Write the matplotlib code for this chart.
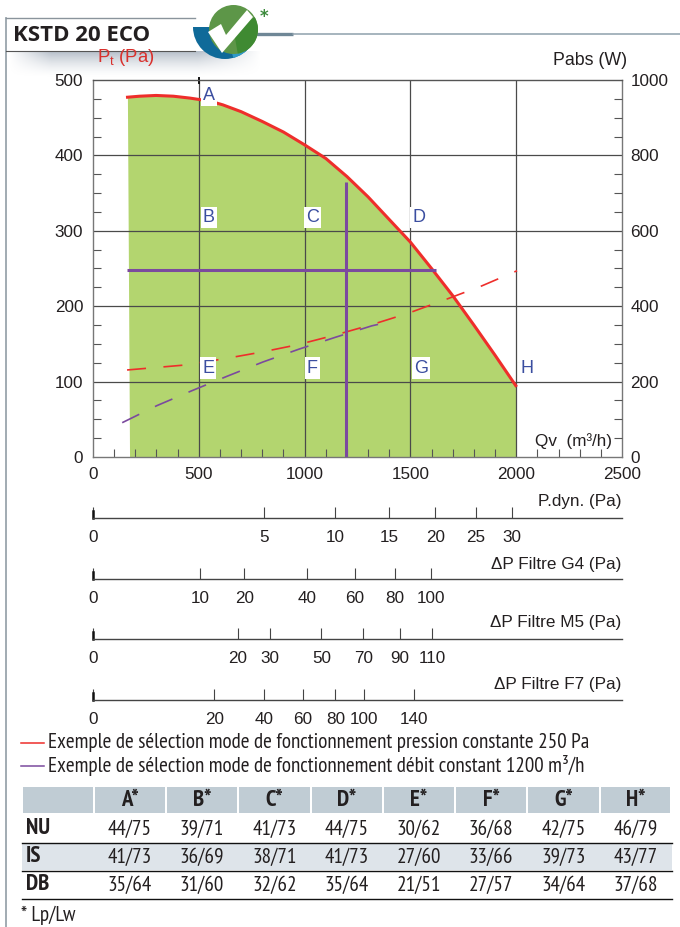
import numpy as np
import matplotlib
matplotlib.use("Agg")
import matplotlib.pyplot as plt
from matplotlib.patches import Rectangle, Circle, Polygon, Wedge
from matplotlib.ticker import NullLocator
from matplotlib import font_manager as fm

W, H = 680, 927
names = {f.name for f in fm.fontManager.ttflist}
SCALE = 1.0
NARROW = None
for cand in ["PT Sans Narrow", "Roboto Condensed", "Archivo Narrow", "Open Sans Condensed"]:
    if cand in names:
        NARROW = cand
        break
if NARROW is None:
    NARROW, SCALE = "Roboto", 0.77
SANS = "Liberation Sans"
plt.rcParams["mathtext.fontset"] = "custom"
plt.rcParams["mathtext.rm"] = SANS
plt.rcParams["mathtext.it"] = SANS
plt.rcParams["mathtext.default"] = "rm"

# ---- data ----
curve_q = [156, 220, 298, 380, 458, 553, 614, 700, 800, 900, 1000, 1100, 1200, 1300, 1400, 1500, 1600, 1700, 1800, 1900, 2002]
curve_p = [477, 478.5, 479.5, 478.5, 476, 472, 467, 458, 445, 431, 414, 396, 372, 345, 315, 285, 250, 214, 175, 135, 93]
fill_left_q = [175, 165]
fill_right_q = 2002
red_dash_q = [161, 435, 614, 794, 969, 1148, 1323, 1493, 1668, 1838, 2004]
red_dash_p = [115.4, 122, 130, 139, 149, 162, 176, 191, 209, 227, 247]
purple_dash_q = [138, 301, 468, 633, 803, 973, 1148, 1318, 1413]
purple_dash_p = [45.5, 68, 88, 107, 126, 143, 159, 174, 180]
op_flow = [1198, 1198]
op_flow_p = [0, 365]
op_press_q = [160, 1620]
op_press = [248, 248]
points = ["A", "B", "C", "D", "E", "F", "G", "H"]
point_q = [548, 548, 1038, 1540, 545, 1036, 1550, 2050]
point_p = [480, 318, 318, 318, 118, 118, 118, 118]
x_ticks = [0, 500, 1000, 1500, 2000, 2500]
y_ticks = [0, 100, 200, 300, 400, 500]
y2_labels = [0, 200, 400, 600, 800, 1000]

scale_titles = ["P.dyn. (Pa)", "ΔP Filtre G4 (Pa)", "ΔP Filtre M5 (Pa)", "ΔP Filtre F7 (Pa)"]
scale_ticks = [[5, 10, 15, 20, 25, 30],
               [10, 20, 40, 60, 80, 100],
               [20, 30, 50, 70, 90, 110],
               [20, 40, 60, 80, 100, 140]]
scale_max = [47.8, 245, 268, 381]

legend_texts = ["Exemple de sélection mode de fonctionnement pression constante 250 Pa",
                "Exemple de sélection mode de fonctionnement débit constant 1200 m³/h"]
table_cols = ["A*", "B*", "C*", "D*", "E*", "F*", "G*", "H*"]
row_names = ["NU", "IS", "DB"]
row_nu = ["44/75", "39/71", "41/73", "44/75", "30/62", "36/68", "42/75", "46/79"]
row_is = ["41/73", "36/69", "38/71", "41/73", "27/60", "33/66", "39/73", "43/77"]
row_db = ["35/64", "31/60", "32/62", "35/64", "21/51", "27/57", "34/64", "37/68"]

RED = "#ee2e2b"
PURPLE = "#7b4a9e"
GREEN = "#b3d56f"
TXT = "#231f20"

fig = plt.figure(figsize=(W / 100, H / 100), dpi=100)

def px_axes(x0, y0, x1, y1, **kw):
    return fig.add_axes([x0 / W, 1 - y1 / H, (x1 - x0) / W, (y1 - y0) / H], **kw)

# ---- overlay in pixels (frame, title, legend, table) ----
bg = px_axes(0, 0, W, H, zorder=0)
bg.axis("off")

# soft shadow below the title box
gy = np.linspace(1, 0, 40)[:, None] ** 1.6
gx = np.clip(np.minimum(np.linspace(0, 1, 120) * 6, np.linspace(1, 0, 120) * 4), 0, 1)[None, :]
rgba = np.zeros((40, 120, 4)); rgba[..., :3] = (0.52, 0.58, 0.65); rgba[..., 3] = gy * gx * 0.6
bg.imshow(rgba, extent=(8, 262, 78, 51), aspect="auto", zorder=0, interpolation="bilinear")
bg.set_xlim(0, W); bg.set_ylim(H, 0)

bg.plot([5.5, 5.5], [18, H], color="#9aa5ad", lw=1.3)
bg.plot([5.5, 195], [18, 18], color="#8a949c", lw=1)
bg.plot([5.5, 195], [51, 51], color="#555555", lw=0.8)
bg.plot([250, 293], [33.5, 33.5], color="#6f8796", lw=2.4, solid_capstyle="butt")
bg.plot([293, W], [33.5, 33.5], color="#8ea0ac", lw=1.1)
bg.text(13, 35.5, "KSTD 20 ECO", fontsize=16, fontweight="bold", family="Open Sans",
        color=TXT, va="center", ha="left")

# logo
bg.add_patch(Wedge((225, 27), 32, 0, 180, color="#0f6a99", lw=0, zorder=4))
bg.add_patch(Wedge((225, 27), 32, 0, 75, color="#2f9ac8", lw=0, zorder=4))
bg.add_patch(Circle((233.5, 29.5), 24.5, color="#5d9648", lw=0, zorder=5))
bg.add_patch(Wedge((233.5, 29.5), 24.5, -30, 80, color="#3f8a32", lw=0, zorder=5))
bg.add_patch(Polygon([[208, 32], [221, 24], [226, 35], [247, 10], [253, 17], [222, 53]], color="white", lw=0, zorder=6))
bg.text(264, 17, "*", color="#3c8a3c", fontsize=12, fontweight="bold", ha="center", va="center", zorder=6)

# legend
leg_y = [743, 766]
for y, t, c in zip(leg_y, legend_texts, [RED, PURPLE]):
    bg.plot([21, 44], [y, y], color=c, lw=1.1)
    bg.text(48, y - 1, t, fontsize=15.2 * SCALE, family=NARROW, color=TXT, va="center", ha="left")

# table
col_edges = [23, 95, 167, 239, 312, 384, 456, 528, 601, 672]
for x0, x1 in zip(col_edges[:-1], col_edges[1:]):
    bg.add_patch(Rectangle((x0, 787), x1 - x0 - 2, 26, color="#c0ccd4", lw=0))
for i, c in enumerate(table_cols):
    bg.text((col_edges[i + 1] + col_edges[i + 2] - 2) / 2, 800, c, fontsize=16.5 * SCALE, fontweight="bold",
            family=NARROW, color=TXT, ha="center", va="center")
bg.add_patch(Rectangle((22, 843), 650, 27, color="#dee4ea", lw=0))
row_y = [829, 857, 885]
for y, name, vals in zip(row_y, row_names, [row_nu, row_is, row_db]):
    bg.text(26, y, name, fontsize=16.5 * SCALE, fontweight="bold", family=NARROW, color=TXT, ha="left", va="center")
    for i, v in enumerate(vals):
        bg.text((col_edges[i + 1] + col_edges[i + 2] - 2) / 2, y, v, fontsize=15.2 * SCALE, family=NARROW,
                color=TXT, ha="center", va="center")
for y in [842.5, 870.5, 898.5]:
    bg.plot([22, 672], [y, y], color="#111111", lw=1)
bg.text(21, 915, "* Lp/Lw", fontsize=15.2 * SCALE, family=NARROW, color=TXT, ha="left", va="center")

# ---- main chart ----
ax = px_axes(93, 80, 622, 457, zorder=2)
ax.patch.set_alpha(0)
ax.set_xlim(0, 2500); ax.set_ylim(0, 500)

ax.fill([fill_left_q[0], fill_left_q[1]] + curve_q[1:] + [fill_right_q],
        [0, np.interp(fill_left_q[1], curve_q, curve_p)] + curve_p[1:] + [0],
        color=GREEN, lw=0, zorder=1)

for q in x_ticks[1:-1]:
    ax.plot([q, q], [0, 500], color="#4a4a4a", lw=0.9, zorder=2)
for p in y_ticks[1:-1]:
    ax.plot([0, 2500], [p, p], color="#4a4a4a", lw=0.9, zorder=2)
ax.plot([500, 500], [496, 502], color="#111111", lw=1.4, zorder=2, clip_on=False)

ax.set_xticks(x_ticks); ax.set_yticks(y_ticks)
ax.set_xticks(np.arange(0, 2501, 100), minor=True)
ax.set_yticks(np.arange(0, 501, 25), minor=True)
ax.tick_params(axis="both", which="minor", direction="in", length=5.5, width=0.8, color="#555555",
               top=False, left=True, bottom=True, zorder=2)
ax.tick_params(axis="both", which="major", length=0, labelsize=12.3, labelcolor=TXT, pad=7)
for lab in ax.get_xticklabels() + ax.get_yticklabels():
    lab.set_family(SANS)
for s in ax.spines.values():
    s.set_color("#777777"); s.set_linewidth(1.0)
ax.spines["top"].set_color("#555555")

ax2 = ax.twinx()
ax2.patch.set_alpha(0)
ax2.set_ylim(0, 1000)
ax2.set_yticks(y2_labels)
ax2.set_yticks(np.arange(0, 1001, 50), minor=True)
ax2.tick_params(axis="y", which="minor", direction="in", length=5.5, width=0.8, color="#555555")
ax2.tick_params(axis="y", which="major", length=0, labelsize=12.3, labelcolor=TXT, pad=6)
for lab in ax2.get_yticklabels():
    lab.set_family(SANS)
for s in ax2.spines.values():
    s.set_visible(False)

ax.plot(curve_q, curve_p, color=RED, lw=2.2, zorder=5, solid_capstyle="butt")
ax.plot(red_dash_q, red_dash_p, color=RED, lw=1.2, dashes=(11.4, 10.5), zorder=5)
ax.plot(purple_dash_q, purple_dash_p, color=PURPLE, lw=1.2, dashes=(11.4, 10.5), zorder=5)
ax.plot(op_flow, op_flow_p, color=PURPLE, lw=2.2, zorder=6, solid_capstyle="butt")
ax.plot(op_press_q, op_press, color=PURPLE, lw=2.2, zorder=6, solid_capstyle="butt")

for t, q, p in zip(points, point_q, point_p):
    ax.text(q, p, t, color="#3b4ea0", fontsize=13, family=SANS, ha="center", va="center", zorder=7,
            clip_on=False, bbox=dict(facecolor="white", edgecolor="none", pad=1.5))

# ---- secondary quadratic scales ----
fwd = lambda v: np.sqrt(np.maximum(v, 0))
inv = lambda v: np.asarray(v) ** 2
scale_y = [518, 579, 639, 700]
title_y = [501, 564, 623, 684]
for yy, ty, title, ticks, vmax in zip(scale_y, title_y, scale_titles, scale_ticks, scale_max):
    s = px_axes(93, yy - 9, 622, yy, zorder=1)
    s.patch.set_alpha(0)
    s.set_xscale("function", functions=(fwd, inv))
    s.set_xlim(0, vmax); s.set_ylim(0, 1)
    s.set_yticks([])
    s.set_xticks([0] + ticks)
    s.set_xticklabels(["0"] + [str(t) for t in ticks], family=SANS, fontsize=12.3, color=TXT)
    s.xaxis.set_minor_locator(NullLocator())
    s.tick_params(axis="x", direction="in", length=8, width=0.8, color="#444444", pad=8.5)
    for k, sp in s.spines.items():
        sp.set_visible(k == "bottom")
    s.spines["bottom"].set_color("#444444"); s.spines["bottom"].set_linewidth(1)
    s.plot([0, 0], [0, 0.8], color="#111111", lw=1.8, clip_on=False)
    bg.text(621, ty, title, fontsize=12.3, family=SANS, color=TXT, ha="right", va="center")

bg.text(627, 60, "Pabs (W)", fontsize=12.8, family=SANS, color=TXT, ha="right", va="center")
bg.text(97, 57, "P$_{t}$ (Pa)", fontsize=13.3, family=SANS, color="#d9302c", ha="left", va="center", zorder=3)
bg.text(612, 441, "Qv  (m³/h)", fontsize=12.3, family=SANS, color=TXT, ha="right", va="center", zorder=3)

fig.savefig("out.png", dpi=100)
